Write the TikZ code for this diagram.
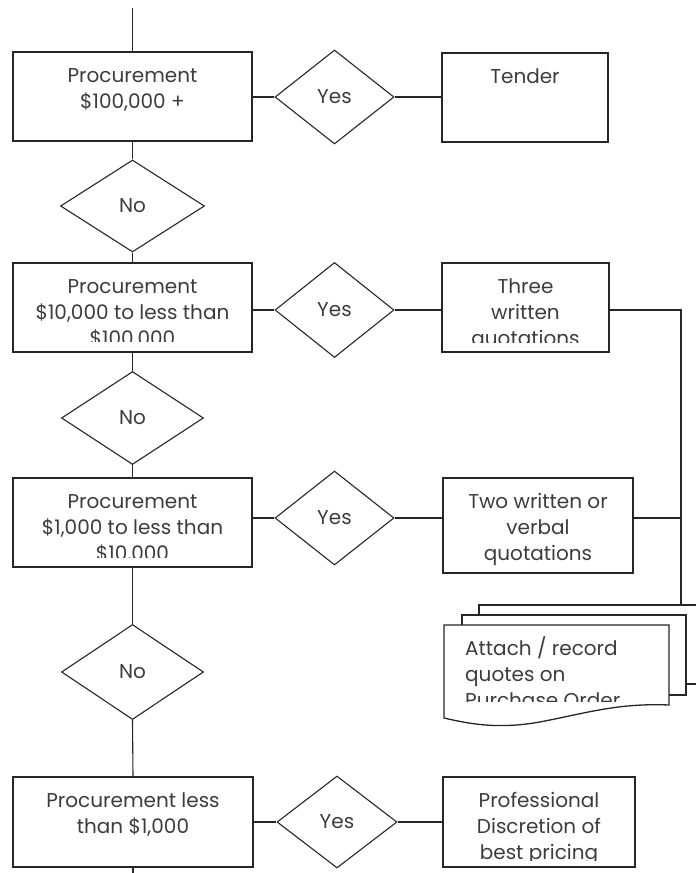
\documentclass[tikz,border=0pt]{standalone}
\usepackage{fontspec}
\setmainfont{Poppins}
\usetikzlibrary{shapes.geometric}
\definecolor{ink}{HTML}{262626}
\definecolor{txtc}{HTML}{3C3C3C}
\tikzset{
  box/.style={draw=ink, line width=1.3pt, rectangle, inner sep=0pt},
  dia/.style={draw=ink, line width=1.1pt, diamond, inner sep=0pt, text=txtc, font=\fontsize{20}{26}\selectfont},
  txt/.style={text=txtc, align=center, inner sep=0pt, font=\fontsize{20}{26}\selectfont},
  ltxt/.style={text=txtc, align=left, inner sep=0pt, font=\fontsize{20}{26}\selectfont},
  conn/.style={draw=ink, line width=1.1pt}
}
\newcommand\procbox[7]{% name, cx, cy, w, h, bottom clip inset, text
  \node[box, minimum width=#4, minimum height=#5] (#1) at (#2,#3) {};
  \begin{scope}
    \clip ([xshift=1pt,yshift=-1pt]#1.north west) rectangle ([xshift=-1pt,yshift=#6]#1.south east);
    \node[txt, anchor=north] at ([yshift=-12.8pt]#1.north) {\strut #7};
  \end{scope}}
\begin{document}
\begin{tikzpicture}[x=1pt,y=-1pt]
\useasboundingbox (0,0) rectangle (696,873);
% left column boxes
\procbox{b1}{132.5}{96.5}{239}{89}{10pt}{Procurement\\\$100,000 +}
\procbox{b2}{132.5}{307.5}{239}{89}{11pt}{Procurement\\\$10,000 to less than\\\$100,000}
\procbox{b3}{132.5}{522.5}{239}{89}{10pt}{Procurement\\\$1,000 to less than\\\$10,000}
\procbox{b4}{133}{822}{240}{90}{5pt}{Procurement less\\than \$1,000}
% right column boxes
\procbox{t1}{525}{97.5}{166}{89}{10pt}{Tender}
\procbox{q2}{525.5}{307.5}{167}{89}{10pt}{Three\\written\\quotations}
\procbox{q3}{538}{525.5}{190}{95}{7pt}{Two written or\\verbal\\quotations}
\procbox{p4}{539}{822}{192}{90}{7pt}{Professional\\Discretion of\\best pricing}
% diamonds
\node[dia, minimum width=119, minimum height=94] (y1) at (334.5,97) {Yes};
\node[dia, minimum width=144, minimum height=92] (n1) at (132.5,206) {No};
\node[dia, minimum width=119, minimum height=95] (y2) at (334.5,310) {Yes};
\node[dia, minimum width=142, minimum height=93] (n2) at (132.5,418) {No};
\node[dia, minimum width=119, minimum height=94] (y3) at (334.5,518) {Yes};
\node[dia, minimum width=142, minimum height=95] (n3) at (132.5,672) {No};
\node[dia, minimum width=120, minimum height=92] (y4) at (337,822) {Yes};
% multi-document
\coordinate (backtop) at (681,605);
\draw[conn, line width=1.3pt] (479,615) -- (479,605) -- (697,605);
\draw[conn, line width=1.3pt] (686,684) -- (697,684);
\draw[conn, line width=1.3pt] (462,625) -- (462,615) -- (686,615) -- (686,695) -- (669,695);
\draw[conn, line width=1.3pt, fill=white] (444,625) -- (669,625) -- (669,705)
   .. controls (620,703) and (590,712) .. (545,721)
   .. controls (500,730) and (470,724) .. (444,718) -- cycle;
\begin{scope}
  \clip (445,626) rectangle (668,701);
  \node[ltxt, anchor=north west] (doc) at (465,636.8) {\strut Attach / record\\quotes on\\Purchase Order};
\end{scope}
% vertical connectors
\coordinate (topend) at (132.5,8);
\coordinate (botend) at (133,873);
\draw[conn] (topend) -- (b1.north);
\draw[conn] (b1.south) -- (n1.north);
\draw[conn] (n1.south) -- (b2.north);
\draw[conn] (b2.south) -- (n2.north);
\draw[conn] (n2.south) -- (b3.north);
\draw[conn] (b3.south) -- (n3.north);
\draw[conn] (n3.south) -- (b4.north);
\draw[conn] (b4.south) -- (botend);
% horizontal connectors
\draw[conn] (b1.east |- y1.west) -- (y1.west);
\draw[conn] (y1.east) -- (y1.east -| t1.west);
\draw[conn] (b2.east |- y2.west) -- (y2.west);
\draw[conn] (y2.east) -- (y2.east -| q2.west);
\draw[conn] (b3.east |- y3.west) -- (y3.west);
\draw[conn] (y3.east) -- (y3.east -| q3.west);
\draw[conn] (b4.east |- y4.west) -- (y4.west);
\draw[conn] (y4.east) -- (y4.east -| p4.west);
% right-side collector
\draw[conn] (q2.east |- y2.west) -| (backtop);
\draw[conn] (q3.east |- y3.west) -- (y3.west -| backtop);
\end{tikzpicture}
\end{document}
